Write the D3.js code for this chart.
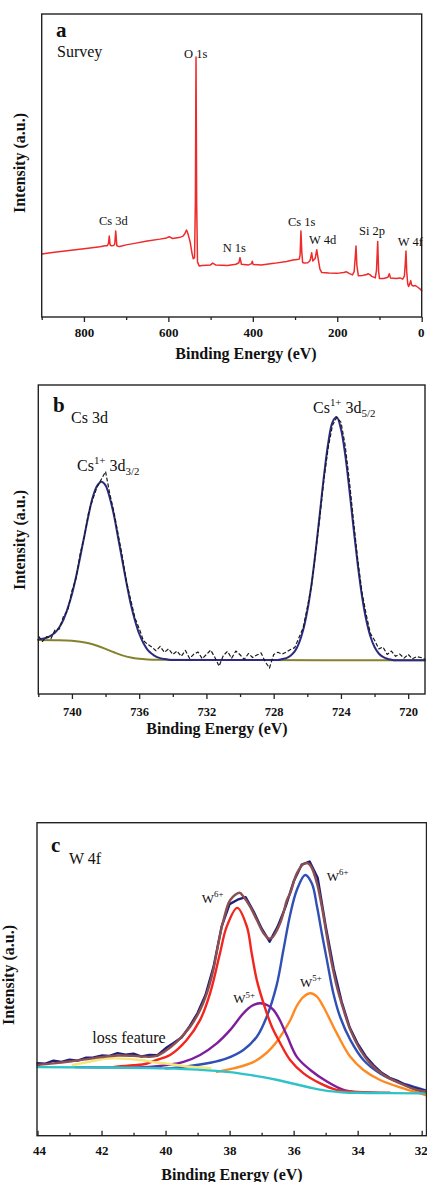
<!DOCTYPE html>
<html><head><meta charset="utf-8">
<script src="https://cdn.jsdelivr.net/npm/d3@7"></script>
<style>body{margin:0;background:#fff}</style>
</head><body><svg id="c" width="427" height="1182"></svg>
<script>
// ---------------- Panel a : survey ----------------
const surveyEV = [900,870,830,790,762,750,745,742,740,738,735,730,727,724.7,722,718,715,700,680,650,620,604,598,590,575,566,561,557,553,548,544,541,538,536,535,534.5,534,533,531,527,520,500,495,488,460,440,433,430.3,427,410,403,401.2,399,380,350,320,305,295,290,288,286,284,282,278,270,265,263,260.5,258,252,248.6,245,241,237,220,200,185,178,172,164,160,157.5,155.6,153.5,150,140,130,127,123,118,110,107,104.2,102,100,90,80,76.7,74,60,51.3,45,41,39,37.2,35.5,33,31,28,26,24,20,15,10,5,0];
const surveyCounts = [20.8,21.4,22.0,22.7,23.2,23.5,23.5,24.2,26.7,23.8,23.5,23.6,24.0,28.4,23.5,23.3,23.3,23.8,24.3,25.1,25.7,26.1,26.5,25.9,26.2,26.6,27.5,28.7,27.2,24.5,21.0,19.2,19.6,38,71,85.8,71,38,18.2,16.8,17.0,17.2,17.8,17.2,17.0,17.4,17.9,19.6,17.4,17.2,17.6,18.4,17.3,17.2,17.7,18.3,18.8,19.0,19.1,20.5,28.4,21.5,18.0,17.8,17.9,18.5,19.4,21.2,18.5,19.4,22.2,19.0,15.8,14.7,14.5,14.4,14.7,14.9,14.4,13.9,15.0,19.5,23.4,17.0,13.6,13.7,14.0,14.3,14.0,13.4,12.9,15.5,24.9,15.0,12.7,12.7,13.1,14.3,12.9,12.7,12.9,12.5,13.5,17.5,21.8,15.0,10.9,10.1,11.1,12.0,10.6,10.2,10.4,9.9,9.4,8.7];
const surveyMajorTicks = [800,600,400,200,0];
const surveyMinorTicks = [900,700,500,300,100];
const surveyPeakNames = ["Cs 3d","O 1s","N 1s","Cs 1s","W 4d","Si 2p","W 4f"];

// ---------------- Panel b : Cs 3d ----------------
const cs3dEV = [742,741.75,741.5,741.25,741,740.75,740.5,740.25,740,739.75,739.5,739.25,739,738.75,738.5,738.25,738,737.75,737.5,737.25,737,736.75,736.5,736.25,736,735.75,735.5,735.25,735,734.75,734.5,734.25,734,
733.75,733.5,733.25,733,732.75,732.5,732.25,732,731.75,731.5,731.25,731,730.75,730.5,730.25,730,729.75,729.5,729.25,729,728.75,728.5,728.25,728,727.75,
727.5,727.25,727,726.75,726.5,726.25,726,725.75,725.5,725.25,725,724.75,724.5,724.25,724,723.75,723.5,723.25,723,722.75,722.5,722.25,722,721.75,721.5,721.25,721,
720.75,720.5,720.25,720,719.75,719.5,719.25,719];
const cs3dRaw = [18.8,17.0,18.6,17.9,20.8,21.0,25.2,27.0,33.4,37.5,45.6,51.0,59.0,63.2,67.0,69.5,72.0,64.8,58.9,51.6,44.5,36.2,30.4,24.6,21.2,17.3,16.1,15.2,14.0,15.4,13.5,14.6,12.8,
13.9,12.2,14.1,11.5,12.9,13.6,11.4,12.8,14.2,11.9,9.0,12.4,13.8,11.6,13.9,12.7,11.2,13.1,11.8,12.6,13.3,10.4,8.4,12.8,13.5,
12.9,13.6,14.4,15.0,18.2,21.4,28.0,35.0,46.0,57.5,70.0,80.0,87.0,89.5,88.0,80.5,69.0,56.0,43.5,33.0,25.8,19.6,17.4,14.6,15.2,12.8,13.9,
12.2,12.9,11.6,12.8,11.4,12.1,11.8,11.3];
const cs3dFit = [17.6,17.9,18.2,18.9,19.9,21.6,24.1,27.8,32.3,38.0,44.6,51.5,58.2,63.9,67.4,68.7,67.5,63.5,57.8,50.5,43.1,35.8,29.1,23.8,19.5,16.5,14.3,13.0,12.1,11.6,11.3,11.1,11.0,
11.0,11.0,11.0,11.0,11.0,11.0,11.0,11.0,11.0,11.0,11.0,11.0,11.0,11.0,11.0,11.0,11.0,11.0,11.0,11.0,11.0,11.0,11.0,11.0,11.0,
11.3,11.6,12.4,13.8,16.4,20.6,26.9,35.5,46.4,58.7,71.0,81.4,88.0,89.6,85.8,77.6,66.2,53.7,41.9,31.8,24.1,18.7,15.2,13.1,12.0,11.4,11.1,
10.9,10.9,10.9,10.9,10.9,10.9,10.9,10.9];
const cs3dBgEV = [742,741,740,739.5,739,738.5,738,737.5,737,736.5,736,735.5,735,730,725,719];
const cs3dBg   = [17.5,17.4,17.2,16.9,16.4,15.6,14.6,13.5,12.5,11.8,11.4,11.2,11.1,11.0,10.95,10.9];
const cs3dMajorTicks = [740,736,732,728,724,720];
const cs3dMinorTicks = [742,738,734,730,726,722];

// ---------------- Panel c : W 4f ----------------
const w4fRawEV = [44,43.75,43.5,43.25,43,42.75,42.5,42.25,42,41.75,41.5,41.25,41,40.75,40.5,40.25,40,39.75,39.5,39.25,39,38.75,38.5,38.25,38,37.75,37.5,37.25,37,36.75,36.5,36.25,36,35.75,35.5,35.25,35,34.75,34.5,34.25,34,33.75,33.5,33.25,33,32.75,32.5,32.25,32,31.85];
const w4fRaw = [23.2,23.0,24.0,23.6,24.3,24.0,24.9,25.0,25.6,25.5,26.4,25.9,26.2,25.3,25.8,25.7,27.9,29.6,31.4,34.9,39.2,45.0,54.0,66.8,74.0,75.4,76.2,71.6,66.2,62.0,66.8,73.2,81.2,86.6,87.6,82.4,67.0,53.4,42.8,34.6,29.4,25.4,22.5,20.1,18.5,17.5,16.2,15.3,14.6,14.2];
const w4fEnvEV = [44,43.5,43,42.5,42,41.5,41,40.5,40.25,40.07,39.65,39.23,38.92,38.71,38.51,38.35,38.19,37.98,37.69,37.57,37.36,37.15,36.94,36.78,36.66,36.52,36.42,36.32,36.21,36.11,35.9,35.69,35.55,35.45,35.27,35.12,34.96,34.81,34.65,34.44,34.23,33.92,33.61,33.19,32.67,32.15,31.85];
const w4fEnv = [22.6,23.1,23.7,24.4,25.1,25.6,25.5,25.2,25.6,26.6,30.0,34.8,40.2,45.5,52.9,61.5,68.9,75.3,77.6,76.4,73.2,68.9,64.7,63.0,63.4,65.7,67.9,71.1,75.3,77.4,83.8,86.8,87.0,85.9,80.6,73.2,63.6,55.1,47.6,40.2,33.8,27.4,23.1,19.4,16.7,14.6,14.1];
const w6RedEV = [41.6,41.0,40.6,40.27,39.86,39.34,38.92,38.61,38.3,38.09,37.76,37.46,37.31,37.15,36.94,36.68,36.42,36.11,35.69,35.17,34.65,34.23,33.5,33.0];
const w6Red   = [22.0,22.5,23.0,24.2,25.8,30.6,37.0,45.5,58.3,66.8,72.8,66.8,58.3,49.7,42.3,34.8,29.6,24.2,19.9,16.7,14.6,14.1,13.8,13.7];
const w6BlueEV = [40.0,39.44,38.61,38.09,37.57,37.15,36.84,36.53,36.32,36.11,35.9,35.64,35.43,35.27,35.12,34.96,34.76,34.55,34.23,33.82,33.3,32.77,32.26,31.85];
const w6Blue   = [21.5,22.0,23.3,24.7,27.4,31.6,38.0,48.1,59.3,70.5,78.5,83.3,80.6,73.2,64.7,56.1,45.5,38.0,30.6,24.2,19.9,17.3,15.7,14.4];
const w5PurpleEV = [42.8,40.5,39.96,39.44,38.92,38.4,37.98,37.57,37.3,37.05,36.8,36.63,36.45,36.21,35.9,35.48,34.96,34.44,34.0,33.6];
const w5Purple   = [21.9,22.0,22.6,23.6,25.8,29.5,33.8,39.1,41.5,42.3,41.6,40.2,37.3,32.0,25.2,21.0,17.3,14.6,13.8,13.7];
const w5OrangeEV = [38.4,37.88,37.26,36.84,36.53,36.32,36.11,35.9,35.7,35.48,35.28,35.07,34.65,34.23,33.82,33.3,32.57,31.85];
const w5Orange   = [20.4,21.5,23.5,26.5,30.0,33.2,36.8,41.5,44.3,45.5,44.5,41.2,32.7,25.2,21.0,17.8,15.1,12.9];
const lossEV = [42.9,42.3,41.9,41.53,40.8,40.3,39.86,39.4,39.03,38.6];
const loss   = [22.6,23.8,24.6,24.7,24.2,23.4,22.9,22.2,21.9,21.6];
const shirleyEV = [44,42,40,39,38,37.5,37,36.5,36,35.5,35,34.5,34,33,31.85];
const shirley   = [21.9,21.8,21.5,21.1,20.3,19.6,18.8,17.8,16.6,15.4,14.4,13.9,13.7,13.6,13.5];
const w4fMajorTicks = [44,42,40,38,36,34,32];
const w4fMinorTicks = [43,41,39,37,35,33];

// ---------------- drawing ----------------
const FONT = '"Liberation Serif","Times New Roman",Times,serif';
const svg = d3.select('#c').attr('font-family', FONT);

function frame(box){
  svg.append('rect').attr('x',box.l).attr('y',box.t).attr('width',box.r-box.l).attr('height',box.b-box.t)
    .attr('fill','none').attr('stroke','#222').attr('stroke-width',1.4);
}
function xAxis(x, box, major, minor, inward, labelY, fs){
  const s = inward ? -1 : 1;
  const g = svg.append('g').attr('transform',`translate(0,${box.b})`);
  g.call(d3.axisBottom(x).tickValues(major).tickSize(5*s).tickSizeOuter(0).tickFormat(d3.format('d')));
  g.select('.domain').remove();
  g.selectAll('.tick line').attr('stroke','#222').attr('stroke-width',1.3);
  g.selectAll('.tick text').attr('y',labelY).attr('dy',0).attr('font-family',FONT)
    .attr('font-size',fs).attr('font-weight','bold').attr('fill','#111');
  const g2 = svg.append('g').attr('transform',`translate(0,${box.b})`);
  g2.call(d3.axisBottom(x).tickValues(minor).tickSize(3*s).tickSizeOuter(0).tickFormat(''));
  g2.select('.domain').remove();
  g2.selectAll('.tick line').attr('stroke','#222').attr('stroke-width',1.3);
  return g;
}
function text(x,y,str,fs,weight,anchor){
  return svg.append('text').attr('x',x).attr('y',y).attr('font-size',fs)
    .attr('font-weight',weight||'normal').attr('text-anchor',anchor||'start').attr('fill','#111').text(str);
}
function rich(x,y,parts,fs){
  const t = svg.append('text').attr('x',x).attr('y',y).attr('font-size',fs).attr('fill','#111');
  let shift = 0;
  parts.forEach(p=>{
    let target = p.sup ? -0.42*fs : (p.sub ? 0.28*fs : 0);
    t.append('tspan').attr('dy', target-shift).attr('font-size', (p.sup||p.sub)? fs*0.68 : fs).text(p.t);
    shift = target;
  });
  return t;
}
function yLabel(bx, cy){
  svg.append('text').attr('transform',`translate(${bx},${cy}) rotate(-90)`).attr('text-anchor','middle')
    .attr('font-size',16).attr('font-weight','bold').attr('fill','#111').text('Intensity (a.u.)');
}
function drawLine(x,y,xs,ys,color,w,curve,dash){
  const pts = xs.map((d,i)=>[d,ys[i]]);
  const p = svg.append('path').datum(pts).attr('fill','none').attr('stroke',color).attr('stroke-width',w)
    .attr('stroke-linejoin','round').attr('stroke-linecap', dash ? 'butt' : 'round')
    .attr('d', d3.line().x(d=>x(d[0])).y(d=>y(d[1])).curve(curve||d3.curveLinear));
  if(dash) p.attr('stroke-dasharray',dash);
  return p;
}

// Panel a
const boxA = {l:41.7,t:14,r:421.7,b:317};
const xA = d3.scaleLinear().domain([900,0]).range([boxA.l,boxA.r]);
const yA = d3.scaleLinear().domain([0,100]).range([boxA.b,boxA.t]);
drawLine(xA,yA,surveyEV,surveyCounts,'#ee2a2a',1.5);
frame(boxA);
const gA = xAxis(xA,boxA,surveyMajorTicks,surveyMinorTicks,false,20,13);
gA.selectAll('.tick text').filter(d=>d===0).attr('dx',-1);
text(246,359,'Binding Energy (eV)',16,'bold','middle');
yLabel(25,163);
text(56,37,'a',21,'bold');
text(57,57,'Survey',16);
const aLab = [[99,225],[184,57.5],[222.7,252],[288,226],[309,244],[359,235],[397.7,245.7]];
surveyPeakNames.forEach((n,i)=>text(aLab[i][0],aLab[i][1],n,12.5));

// Panel b
const boxB = {l:38.3,t:385,r:425,b:694};
const xB = d3.scaleLinear().domain([742,719]).range([boxB.l,boxB.r]);
const yB = d3.scaleLinear().domain([0,100]).range([boxB.b,boxB.t]);
drawLine(xB,yB,cs3dBgEV,cs3dBg,'#86812e',2,d3.curveMonotoneX);
drawLine(xB,yB,cs3dEV,cs3dFit,'#2b2b82',2,d3.curveCatmullRom);
drawLine(xB,yB,cs3dEV,cs3dRaw,'#1a1a1a',1.2,d3.curveLinear,'4,2');
frame(boxB);
xAxis(xB,boxB,cs3dMajorTicks,cs3dMinorTicks,false,22,12.5);
text(217,734,'Binding Energy (eV)',16,'bold','middle');
yLabel(25,540);
text(53,412,'b',21,'bold');
text(71,423,'Cs 3d',16);
rich(313,413,[{t:'Cs'},{t:'1+',sup:true},{t:' 3d'},{t:'5/2',sub:true}],16);
rich(77,471,[{t:'Cs'},{t:'1+',sup:true},{t:' 3d'},{t:'3/2',sub:true}],16);

// Panel c
const boxC = {l:37,t:822.7,r:426.5,b:1135.7};
const xC = d3.scaleLinear().domain([44,31.85]).range([boxC.l+0.5,boxC.r]);
const yC = d3.scaleLinear().domain([0,100]).range([boxC.b,boxC.t]);
const cr = d3.curveCatmullRom.alpha(0.5);
drawLine(xC,yC,w5OrangeEV,w5Orange,'#ff8a22',2.4,cr);
drawLine(xC,yC,w6BlueEV,w6Blue,'#2f50b4',2.4,cr);
drawLine(xC,yC,w5PurpleEV,w5Purple,'#7d1f9c',2.4,cr);
drawLine(xC,yC,w6RedEV,w6Red,'#f2261e',2.4,cr);
drawLine(xC,yC,lossEV,loss,'#f3e67a',2.4,cr);
drawLine(xC,yC,shirleyEV,shirley,'#2ec3c9',2.4,d3.curveMonotoneX);
drawLine(xC,yC,w4fRawEV,w4fRaw,'#20207a',2.4,d3.curveLinear);
drawLine(xC,yC,w4fEnvEV,w4fEnv,'#8c5050',2.4,cr);
frame(boxC);
const gC = xAxis(xC,boxC,w4fMajorTicks,w4fMinorTicks,true,19.3,13);
gC.selectAll('.tick text').filter(d=>d===32).attr('text-anchor','end').attr('dx',5.5);
gC.selectAll('.tick text').filter(d=>d===44).attr('dx',1.5);
text(232,1180,'Binding Energy (eV)',16,'bold','middle');
yLabel(14,975);
text(51,851.7,'c',21,'bold');
text(69,864,'W 4f',16);
rich(201.7,902.7,[{t:'W'},{t:'6+',sup:true}],13);
rich(326.7,880.7,[{t:'W'},{t:'6+',sup:true}],13);
rich(233.3,1003.3,[{t:'W'},{t:'5+',sup:true}],13);
rich(300,986.7,[{t:'W'},{t:'5+',sup:true}],13);
text(92.3,1043.3,'loss feature',16);
</script>
</body></html>
